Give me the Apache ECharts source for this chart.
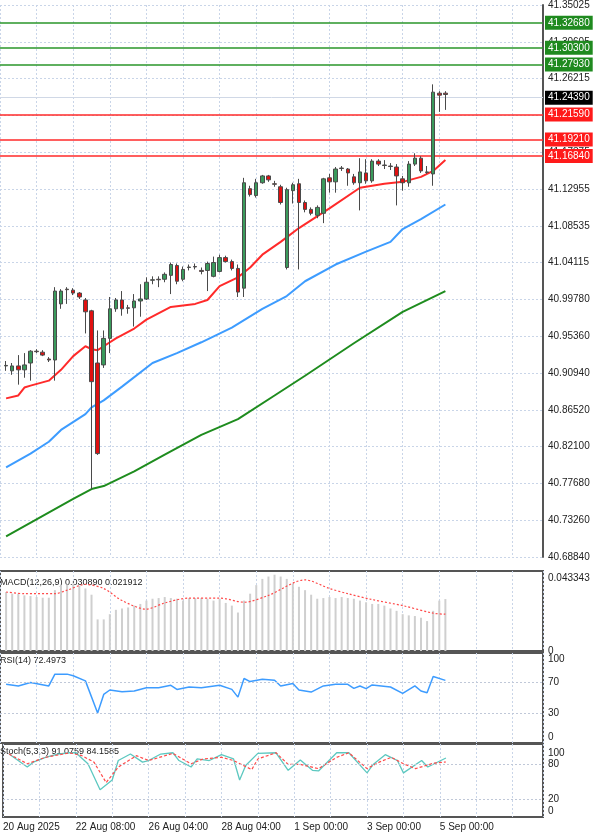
<!DOCTYPE html>
<html lang="en">
<head>
    <meta charset="UTF-8">
    <script src="https://cdn.jsdelivr.net/npm/echarts@6/dist/echarts.min.js"></script>
    <style>html,body{margin:0;padding:0;background:#fff;}</style>
</head>
<body>
<div id="main" style="width:600px;height:834px;"></div>
<script type="text/javascript">
    // candles: open, close, low, high (slots 1..73, H4)
    var candles = [
        [40.9179,40.9185,40.9120,40.9238],[40.9120,40.9179,40.9072,40.9214],[40.9179,40.9132,40.8954,40.9309],
        [40.9132,40.9191,40.9037,40.9333],[40.9214,40.9356,40.9002,40.9368],[40.9356,40.9350,40.9333,40.9380],
        [40.9344,40.9309,40.9297,40.9368],[40.9262,40.9250,40.9226,40.9285],[40.9250,41.0078,40.9002,41.0125],
        [40.9924,41.0078,40.9865,41.0101],[41.0101,41.0095,40.9924,41.0125],[41.0089,41.0054,41.0030,41.0113],
        [41.0054,41.0007,40.9983,41.0066],[40.9971,40.9829,40.9569,40.9995],[40.9841,40.8990,40.7700,40.9853],
        [40.9214,40.8126,40.8110,40.9605],[40.9191,40.9510,40.9155,40.9605],[40.9510,40.9865,40.9333,41.0007],
        [40.9865,40.9971,40.9829,40.9995],[40.9971,40.9865,40.9782,41.0078],[40.9877,40.9871,40.9806,40.9912],
        [40.9877,40.9959,40.9652,41.0042],[40.9959,40.9983,40.9770,41.0160],[40.9983,41.0184,40.9971,41.0243],
        [41.0208,41.0214,41.0160,41.0255],[41.0220,41.0214,41.0125,41.0255],[41.0220,41.0279,41.0184,41.0302],
        [41.0267,41.0397,41.0042,41.0421],[41.0385,41.0196,41.0160,41.0409],[41.0220,41.0338,41.0196,41.0373],
        [41.0361,41.0367,41.0326,41.0397],[41.0373,41.0367,41.0338,41.0409],[41.0326,41.0314,41.0279,41.0361],
        [41.0326,41.0409,41.0078,41.0432],[41.0255,41.0421,41.0243,41.0492],[41.0314,41.0480,41.0302,41.0515],
        [41.0480,41.0432,41.0421,41.0503],[41.0432,41.0350,41.0326,41.0456],[41.0350,41.0066,41.0007,41.0397],
        [41.0113,41.1379,41.0007,41.1438],[41.1308,41.1237,41.1213,41.1343],[41.1225,41.1379,41.1201,41.1426],
        [41.1379,41.1461,41.1367,41.1473],[41.1461,41.1414,41.1390,41.1473],[41.1367,41.1361,41.1331,41.1402],
        [41.1331,41.1142,41.1118,41.1355],[41.0361,41.1296,41.0338,41.1319],[41.1284,41.1355,41.1130,41.1379],
        [41.1367,41.1142,41.0338,41.1426],[41.1142,41.1059,41.1024,41.1166],[41.1059,41.1012,41.0988,41.1083],
        [41.0988,41.1083,41.0953,41.1107],[41.1012,41.1426,41.0894,41.1438],[41.1438,41.1390,41.1260,41.1485],
        [41.1390,41.1544,41.1260,41.1568],[41.1556,41.1550,41.1521,41.1580],[41.1544,41.1497,41.1343,41.1556],
        [41.1450,41.1379,41.1355,41.1485],[41.1379,41.1509,41.1047,41.1674],[41.1497,41.1402,41.1367,41.1662],
        [41.1402,41.1639,41.1379,41.1662],[41.1639,41.1603,41.1580,41.1662],[41.1592,41.1586,41.1544,41.1651],
        [41.1580,41.1574,41.1532,41.1615],[41.1568,41.1461,41.1107,41.1603],[41.1426,41.1379,41.1284,41.1461],
        [41.1379,41.1603,41.1331,41.1639],[41.1603,41.1674,41.1580,41.1733],[41.1674,41.1521,41.1497,41.1698],
        [41.1509,41.1503,41.1485,41.1580],[41.1485,41.2467,41.1343,41.2561],[41.2455,41.2431,41.2230,41.2479],
        [41.2455,41.2439,41.2254,41.2479]
    ];

    // moving averages, [slot, value]
    var maFast = [[1,40.8789],[3,40.8824],[4,40.8919],[5,40.8942],[8,40.9002],[10,40.9132],[12,40.9297],[14,40.9415],
        [15,40.9380],[16,40.9368],[17,40.9415],[19,40.9510],[22,40.9628],[24,40.9735],[28,40.9888],[32,40.9924],
        [34,40.9971],[36,41.0137],[39,41.0243],[41,41.0361],[43,41.0515],[46,41.0669],[49,41.0835],[54,41.1071],
        [59,41.1319],[63,41.1367],[66,41.1390],[69,41.1450],[71,41.1521],[73,41.1651]];
    var maMid = [[1,40.7961],[5,40.8126],[8,40.8268],[10,40.8410],[14,40.8599],[15,40.8682],[17,40.8765],[20,40.8930],
        [25,40.9214],[29,40.9333],[33,40.9463],[38,40.9640],[43,40.9865],[47,41.0018],[50,41.0196],[55,41.0397],
        [60,41.0551],[64,41.0669],[66,41.0823],[69,41.0941],[73,41.1118]];
    var maSlow = [[1,40.7133],[12,40.7582],[15,40.7700],[17,40.7736],[22,40.7913],[27,40.8114],[33,40.8351],
        [39,40.8540],[45,40.8824],[50,40.9061],[58,40.9451],[66,40.9829],[73,41.0078]];

    var resistances = [41.3268, 41.3030, 41.2793];
    var supports = [41.2159, 41.1921, 41.1684];
    var lastPrice = 41.2439;

    var priceTicks = ['40.68840','40.73260','40.77680','40.82100','40.86520','40.90940','40.95360','40.99780',
        '41.04115','41.08535','41.12955','41.17375','41.21795','41.26215','41.30605','41.35025'];

    var macdHist = [0.0351,0.0341,0.0341,0.0331,0.0327,0.0321,0.0317,0.0317,0.0362,0.0392,0.0396,0.0402,0.0388,
        0.0372,0.0335,0.0188,0.0188,0.0219,0.0245,0.0253,0.0259,0.0270,0.0280,0.0300,0.0311,0.0315,0.0321,0.0315,
        0.0311,0.0300,0.0315,0.0315,0.0315,0.0311,0.0300,0.0311,0.0286,0.0270,0.0229,0.0300,0.0341,0.0392,0.0429,
        0.0443,0.0454,0.0443,0.0429,0.0402,0.0382,0.0362,0.0335,0.0311,0.0315,0.0321,0.0315,0.0321,0.0315,0.0311,
        0.0300,0.0290,0.0280,0.0280,0.0270,0.0253,0.0239,0.0219,0.0212,0.0208,0.0198,0.0178,0.0239,0.0300,0.0309];
    var macdSignal = [[1,0.0351],[4,0.0341],[9,0.0341],[11,0.0362],[14,0.0396],[17,0.0372],[20,0.0300],[24,0.0249],
        [27,0.0286],[31,0.0315],[36,0.0315],[40,0.0290],[44,0.0331],[50,0.0423],[54,0.0372],[57,0.0341],
        [61,0.0306],[66,0.0270],[71,0.0225],[73,0.0219]];

    var rsi = [[1,67.5],[3,65.4],[5,69.7],[8,65.4],[9,80.5],[11,80.5],[12,78.4],[14,71.9],[16,30.7],[17,54.5],
        [18,60.2],[20,58.0],[22,58.9],[24,63.2],[26,63.2],[28,66.2],[29,61.0],[31,64.1],[33,63.2],[36,66.2],
        [38,61.0],[39,51.1],[40,74.9],[41,71.0],[43,74.0],[45,72.7],[46,65.4],[48,68.4],[49,60.2],[51,57.6],
        [53,65.4],[55,67.5],[57,67.5],[58,62.3],[59,65.4],[60,61.9],[61,66.7],[64,64.1],[66,55.8],[68,65.4],
        [69,58.9],[70,56.7],[71,77.5],[73,72.5]];

    var stochMain = [[1,97.8],[4,75.6],[5,83.9],[7,92.2],[9,97.8],[11,100],[12,100],[14,81.1],[16,36.7],[18,53.3],
        [19,86.7],[21,97.8],[23,83.9],[24,86.7],[26,97.8],[28,100],[29,86.7],[31,75.6],[32,89.4],[34,86.7],
        [36,96.7],[38,89.4],[39,53.3],[40,78.3],[42,98.9],[45,100],[47,70],[49,87.8],[51,70],[52,68.9],
        [55,100],[57,100],[60,65.6],[61,80],[63,96.7],[65,86.7],[66,65.6],[69,86.7],[70,75.6],[73,91.1]];
    var stochSignal = [[1,97.8],[4,81.1],[7,92.2],[11,100],[13,95],[15,83.9],[17,48.9],[19,75.6],[22,95],[24,86.7],
        [28,98.9],[31,81.1],[33,89.4],[36,92.2],[38,86.7],[41,71.1],[42,89.4],[45,100],[47,80],[49,80],
        [52,72.8],[55,92.2],[57,100],[60,72.8],[62,83.9],[64,92.2],[66,81.1],[68,72.8],[71,82.2],[73,84.2]];

    var timeLabels = {0:'20 Aug 2025', 12:'22 Aug 08:00', 24:'26 Aug 04:00', 36:'28 Aug 04:00',
        48:'1 Sep 00:00', 60:'3 Sep 00:00', 72:'5 Sep 00:00'};

    var slotCount = 90;
    var slots = [];
    for (var i = 0; i < slotCount; i++) slots.push('s' + i);
    var candleData = candles.map(function (c, k) { return [k + 1].concat(c); });
    var histData = macdHist.map(function (v, k) { return [k + 1, v]; });

    var FONT = 'Liberation Sans';
    var gridLine = {show: true, lineStyle: {color: '#c9d5e8', type: [2, 2], width: 1}};
    var pMin = 40.6884, pStep = 0.0442;

    function xAxis(idx, showLabels) {
        return {
            type: 'category', gridIndex: idx, data: slots, boundaryGap: false,
            axisLine: {show: false}, axisTick: {show: false},
            splitLine: {show: true, interval: 5, lineStyle: {color: '#c9d5e8', type: [2, 2]}},
            axisLabel: {
                show: showLabels, interval: 0, align: 'left', margin: 5, fontFamily: FONT, fontSize: 10, color: '#222',
                formatter: function (v, i) { return timeLabels[i] || ''; }
            }
        };
    }
    function levelLine(v, color, bg, w) {
        return {
            yAxis: v, lineStyle: {color: color, width: w, type: 'solid'},
            label: {show: true, position: 'end', distance: 2, formatter: v.toFixed(5), color: '#fff',
                backgroundColor: bg, padding: [2, 3], fontFamily: FONT, fontSize: 10}
        };
    }
    var levels = [];
    resistances.forEach(function (v) { levels.push(levelLine(v, '#2a962a', '#1f8a1f', 1.5)); });
    supports.forEach(function (v) { levels.push(levelLine(v, '#ff2a2a', '#ff1a1a', 1.5)); });
    levels.push(levelLine(lastPrice, '#d0d8e6', '#000', 1));

    var myChart = echarts.init(document.getElementById('main'));
    var option = {
        animation: false,
        backgroundColor: '#fff',
        grid: [
            {left: -3, right: 57, top: -3, bottom: 277},
            {left: -3, right: 57, top: 571, bottom: 183, show: true, borderColor: '#555', borderWidth: 2},
            {left: -3, right: 57, top: 653, bottom: 91, show: true, borderColor: '#555', borderWidth: 2},
            {left: -3, right: 57, top: 744, bottom: 17, show: true, borderColor: '#555', borderWidth: 2}
        ],
        xAxis: [xAxis(0, false), xAxis(1, false), xAxis(2, false), xAxis(3, true)],
        yAxis: [
            {
                gridIndex: 0, position: 'right', min: pMin, max: pMin + 15 * pStep, interval: pStep,
                axisLine: {show: true, lineStyle: {color: '#555', width: 2}}, axisTick: {show: false},
                splitLine: gridLine,
                axisLabel: {fontFamily: FONT, fontSize: 10, color: '#222', margin: 5,
                    formatter: function (v) { return priceTicks[Math.round((v - pMin) / pStep)] || ''; }}
            },
            {
                gridIndex: 1, position: 'right', min: 0, max: 0.0476, interval: 0.043343,
                axisLine: {show: false}, axisTick: {show: false}, splitLine: {show: false},
                axisLabel: {fontFamily: FONT, fontSize: 10, color: '#222', margin: 5, showMaxLabel: false,
                    formatter: function (v) { return v === 0 ? '0' : v.toFixed(6); }}
            },
            {
                gridIndex: 2, position: 'right', min: -7.5, max: 107.5, interval: 2.5,
                axisLine: {show: false}, axisTick: {show: false}, splitLine: {show: false},
                axisLabel: {fontFamily: FONT, fontSize: 10, color: '#222', margin: 5, showMinLabel: false, showMaxLabel: false,
                    formatter: function (v) { return [0, 30, 70, 100].indexOf(v) >= 0 ? String(v) : ''; }}
            },
            {
                gridIndex: 3, position: 'right', min: -10, max: 115, interval: 5,
                axisLine: {show: false}, axisTick: {show: false}, splitLine: {show: false},
                axisLabel: {fontFamily: FONT, fontSize: 10, color: '#222', margin: 5, showMinLabel: false, showMaxLabel: false,
                    formatter: function (v) { return [0, 20, 80, 100].indexOf(v) >= 0 ? String(v) : ''; }}
            }
        ],
        graphic: [
            {type: 'text', left: 0, top: 578, style: {text: 'MACD(12,26,9) 0.030890 0.021912', font: '9px Liberation Sans', fill: '#222'}},
            {type: 'text', left: 0, top: 656, style: {text: 'RSI(14) 72.4973', font: '9px Liberation Sans', fill: '#222'}},
            {type: 'text', left: 0, top: 747, style: {text: 'Stoch(5,3,3) 91.0759 84.1585', font: '9px Liberation Sans', fill: '#222'}}
        ],
        series: [
            {
                type: 'candlestick', xAxisIndex: 0, yAxisIndex: 0, data: candleData, barWidth: 4, z: 5,
                encode: {x: 0, y: [1, 2, 3, 4]},
                itemStyle: {color: '#3a9a5c', color0: '#e01010', borderColor: '#4a4a4a', borderColor0: '#4a4a4a', borderWidth: 1},
                markLine: {silent: true, symbol: 'none', data: levels, z: 1}
            },
            {type: 'line', xAxisIndex: 0, yAxisIndex: 0, data: maSlow, showSymbol: false, lineStyle: {color: '#1e8c1e', width: 2}, z: 3},
            {type: 'line', xAxisIndex: 0, yAxisIndex: 0, data: maMid, showSymbol: false, lineStyle: {color: '#3d9cff', width: 2}, z: 3},
            {type: 'line', xAxisIndex: 0, yAxisIndex: 0, data: maFast, showSymbol: false, lineStyle: {color: '#ff2a2a', width: 2}, z: 3},
            {type: 'bar', xAxisIndex: 1, yAxisIndex: 1, data: histData, barWidth: 2, itemStyle: {color: '#cfcfcf'}},
            {type: 'line', xAxisIndex: 1, yAxisIndex: 1, data: macdSignal, showSymbol: false, smooth: 0.3,
                lineStyle: {color: '#ff4a4a', width: 1.2, type: [2, 2]}},
            {
                type: 'line', xAxisIndex: 2, yAxisIndex: 2, data: rsi, showSymbol: false, lineStyle: {color: '#3d9cff', width: 1.5},
                markLine: {silent: true, symbol: 'none', label: {show: false},
                    lineStyle: {color: '#c0c8d8', type: [2, 2], width: 1}, data: [{yAxis: 30}, {yAxis: 70}]}
            },
            {
                type: 'line', xAxisIndex: 3, yAxisIndex: 3, data: stochMain, showSymbol: false, lineStyle: {color: '#5cc8c0', width: 1.3},
                markLine: {silent: true, symbol: 'none', label: {show: false},
                    lineStyle: {color: '#c0c8d8', type: [2, 2], width: 1}, data: [{yAxis: 20}, {yAxis: 80}]}
            },
            {type: 'line', xAxisIndex: 3, yAxisIndex: 3, data: stochSignal, showSymbol: false,
                lineStyle: {color: '#ff4a4a', width: 1.2, type: [3, 2]}}
        ]
    };
    myChart.setOption(option);
</script>
</body>
</html>
